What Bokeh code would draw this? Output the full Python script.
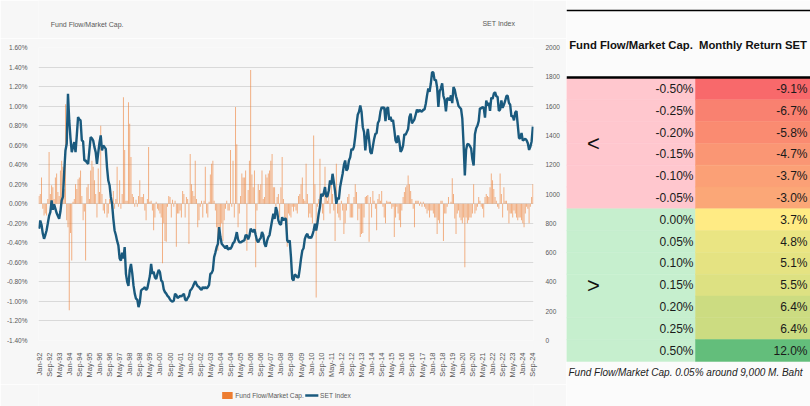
import numpy as np
import pandas as pd
from bokeh.plotting import figure
from bokeh.models import (Range1d, LinearAxis, FixedTicker, CustomJSTickFormatter,
                          ColumnDataSource)
from bokeh.layouts import row, column
from bokeh.embed import file_html
from bokeh.resources import INLINE
from bokeh.core.properties import value

# ---------------- data ----------------
set_1992 = [763, 819, 790, 730, 694, 720, 751, 800, 850, 876, 956, 893]
set_1993 = [930, 900, 870, 850, 831, 880, 956, 980, 1150, 1297, 1343, 1684]
set_1994 = [1502, 1380, 1286, 1320, 1354, 1286, 1400, 1525, 1510, 1502, 1365, 1360]
set_1995 = [1229, 1229, 1215, 1206, 1300, 1388, 1380, 1365, 1320, 1286, 1206, 1280]
set_1996 = [1350, 1400, 1297, 1330, 1320, 1308, 1180, 1092, 1060, 980, 933, 831]
set_1997 = [751, 720, 680, 649, 560, 546, 600, 560, 637, 455, 400, 372]
set_1998 = [480, 523, 460, 376, 320, 285, 280, 228, 260, 341, 350, 355]
set_1999 = [364, 345, 357, 400, 440, 523, 455, 470, 430, 420, 455, 482]
set_2000 = [467, 410, 400, 350, 330, 320, 305, 296, 280, 270, 265, 273]
set_2001 = [319, 310, 290, 296, 305, 300, 310, 319, 280, 273, 290, 303]
set_2002 = [341, 350, 365, 385, 405, 385, 370, 365, 353, 345, 365, 356]
set_2003 = [364, 355, 364, 380, 455, 460, 480, 569, 600, 637, 660, 774]
set_2004 = [706, 660, 650, 640, 630, 649, 620, 630, 626, 640, 665, 671]
set_2005 = [700, 740, 690, 671, 670, 675, 680, 683, 720, 717, 690, 713]
set_2006 = [763, 750, 740, 760, 720, 683, 670, 690, 700, 740, 720, 660]
set_2007 = [640, 680, 706, 720, 770, 819, 865, 830, 910, 880, 820, 797]
set_2008 = [790, 842, 820, 832, 831, 683, 670, 684, 569, 421, 410, 450]
set_2009 = [444, 431, 432, 491, 560, 614, 630, 694, 717, 728, 700, 706]
set_2010 = [700, 720, 751, 797, 750, 800, 865, 911, 1001, 984, 1005, 1047]
set_2011 = [982, 986, 1024, 1093, 1063, 1138, 1081, 1020, 933, 975, 964, 1047]
set_2012 = [1094, 1138, 1197, 1229, 1160, 1172, 1229, 1250, 1308, 1299, 1324, 1392]
set_2013 = [1474, 1541, 1561, 1604, 1562, 1456, 1423, 1297, 1383, 1445, 1371, 1286]
set_2014 = [1274, 1325, 1376, 1411, 1415, 1485, 1502, 1561, 1593, 1584, 1593, 1498]
set_2015 = [1581, 1593, 1506, 1526, 1496, 1505, 1440, 1365, 1349, 1400, 1359, 1288]
set_2016 = [1301, 1332, 1408, 1404, 1424, 1444, 1524, 1548, 1483, 1496, 1510, 1543]
set_2017 = [1577, 1559, 1575, 1566, 1562, 1575, 1576, 1616, 1673, 1721, 1697, 1754]
set_2018 = [1832, 1830, 1776, 1780, 1727, 1595, 1701, 1721, 1756, 1669, 1642, 1564]
set_2019 = [1653, 1653, 1639, 1673, 1620, 1730, 1712, 1667, 1637, 1601, 1590, 1580]
set_2020 = [1514, 1341, 1126, 1302, 1342, 1339, 1328, 1311, 1237, 1195, 1408, 1449]
set_2021 = [1466, 1497, 1587, 1583, 1593, 1588, 1521, 1638, 1605, 1623, 1568, 1658]
set_2022 = [1648, 1685, 1695, 1667, 1663, 1568, 1576, 1639, 1589, 1609, 1635, 1669]
set_2023 = [1671, 1622, 1609, 1529, 1533, 1503, 1556, 1566, 1472, 1381, 1381, 1416]
set_2024 = [1365, 1370, 1377, 1367, 1346, 1301, 1322, 1359, 1460]

flow_1992 = [0.08, 0.10, 0.27, -0.05, -0.12, -0.10, -0.12, 0.05, 0.53, 0.10, 0.19, 0.17]
flow_1993 = [0.05, 0.27, 0.31, 0.12, 0.08, 0.34, 0.44, 0.38, 0.15, 1.02, -0.17, -0.24]
flow_1994 = [-1.09, -0.30, -0.58, 0.02, 0.05, 0.20, 0.15, 0.25, 0.27, 0.34, 0.08, -0.17]
flow_1995 = [-0.08, -0.58, 0.17, 0.20, 0.05, 0.34, 0.44, 0.38, 0.24, 0.10, -0.14, 0.36]
flow_1996 = [0.12, 0.80, 0.10, -0.07, -0.10, 0.05, -0.14, -0.10, 0.05, 0.03, -0.05, 0.13]
flow_1997 = [-0.05, 0.05, 0.38, -0.03, 0.24, -0.05, 0.10, 1.09, 0.55, 0.03, 0.03, 1.04]
flow_1998 = [0.82, 0.48, 0.10, 0.07, -0.03, 0.04, -0.03, 0.08, 0.24, 0.07, 0.07, 0.10]
flow_1999 = [-0.07, -0.17, 0.05, 0.58, 0.02, 0.03, -0.07, -0.27, -0.14, 0.02, -0.05, -0.07]
flow_2000 = [-0.10, -0.14, -0.61, -0.20, -0.38, -0.39, -0.03, 0.08, 0.07, -0.14, 0.04, -0.03]
flow_2001 = [0.03, -0.44, -0.10, -0.10, -0.07, -0.14, 0.13, 0.10, -0.14, 0.07, 0.05, -0.41]
flow_2002 = [0.51, 0.20, 0.13, 0.08, 0.44, 0.05, -0.24, -0.17, -0.03, 0.03, -0.14, 0.03]
flow_2003 = [0.38, -0.10, -0.14, 0.02, 0.30, 0.41, 0.44, 0.03, -0.07, -0.24, -0.48, -0.31]
flow_2004 = [-0.24, -0.20, -0.38, -0.17, -0.05, 0.03, -0.07, -0.07, 0.55, -0.03, 0.44, -0.14]
flow_2005 = [0.99, 0.61, -0.24, -0.10, 0.08, 0.31, 0.27, 0.27, 0.34, -0.48, 0.14, 0.44]
flow_2006 = [1.37, 0.30, 0.17, 0.34, -0.65, -0.07, 0.20, 0.14, 0.20, 0.34, 0.05, 0.07]
flow_2007 = [0.30, 0.27, 0.31, 0.34, 0.44, 0.51, 0.17, 0.17, -0.03, 0.07, 0.10, -0.14]
flow_2008 = [0.17, 0.48, 0.05, -0.14, -0.20, -0.44, -0.10, -0.12, -0.14, -0.03, -0.08, -0.03]
flow_2009 = [-0.07, -0.10, 0.08, 0.10, 0.20, 0.27, 0.05, 0.03, 0.41, 0.10, -0.14, -0.10]
flow_2010 = [-0.14, -0.20, 0.70, 0.20, -0.96, -0.03, 0.05, 0.46, 0.08, -0.10, -0.17, 0.38]
flow_2011 = [0.12, 0.03, 0.20, -0.10, 0.24, 0.10, -0.07, -0.38, 0.41, -0.10, -0.14, -0.17]
flow_2012 = [0.03, -0.07, -0.31, -0.20, -0.07, 0.07, 0.10, -0.14, -0.14, -0.14, 0.07, 0.20]
flow_2013 = [0.12, -0.17, -0.05, -0.34, -0.31, -0.30, -0.14, 0.07, 0.08, 0.09, -0.39, 0.07]
flow_2014 = [-0.14, 0.13, 0.03, -0.05, -0.27, 0.05, 0.10, 0.03, 0.13, -0.03, -0.14, -0.20]
flow_2015 = [0.03, 0.02, 0.02, 0.02, -0.05, -0.03, -0.34, -0.14, -0.03, -0.10, -0.17, -0.24]
flow_2016 = [-0.07, 0.07, 0.12, 0.17, 0.19, 0.29, 0.20, 0.13, 0.05, -0.05, -0.24, 0.03]
flow_2017 = [0.03, 0.03, -0.02, 0.02, -0.03, 0.02, -0.03, -0.05, -0.10, -0.07, -0.14, -0.07]
flow_2018 = [-0.07, -0.10, -0.14, -0.14, -0.31, -0.17, -0.20, 0.03, 0.03, -0.38, -0.10, -0.10]
flow_2019 = [-0.03, 0.07, 0.00, 0.02, 0.26, 0.10, -0.15, -0.31, -0.10, -0.07, -0.14, -0.17]
flow_2020 = [-0.20, -0.14, -0.65, -0.14, -0.20, -0.17, -0.14, -0.14, -0.10, 0.20, -0.10, -0.07]
flow_2021 = [-0.03, 0.07, 0.03, -0.03, -0.05, -0.14, 0.07, 0.10, 0.08, 0.07, 0.17, 0.31]
flow_2022 = [0.24, 0.15, 0.07, 0.03, -0.03, -0.05, 0.31, 0.10, -0.14, 0.17, 0.03, 0.03]
flow_2023 = [-0.07, -0.20, -0.10, -0.10, -0.14, -0.07, -0.10, -0.14, -0.17, -0.14, -0.14, -0.17]
flow_2024 = [-0.20, -0.24, -0.10, -0.03, -0.05, -0.20, -0.03, 0.07, 0.20]

years = range(1992, 2025)
set_index = sum((globals()[f"set_{y}"] for y in years), [])
fund_flow = sum((globals()[f"flow_{y}"] for y in years), [])
month_idx = list(range(len(set_index)))
months = pd.date_range("1992-01-01", periods=len(set_index), freq="MS")

x_tick_pos = month_idx[::8]
x_tick_labels = [months[i].strftime("%b-%y") for i in x_tick_pos]
left_ticks = [-1.4, -1.2, -1.0, -0.8, -0.6, -0.4, -0.2, 0.0, 0.2, 0.4, 0.6, 0.8, 1.0, 1.2, 1.4, 1.6]
right_ticks = [0, 200, 400, 600, 800, 1000, 1200, 1400, 1600, 1800, 2000]

series_names = ["Fund Flow/Market Cap.", "SET Index"]

# table
ff_thresholds = [-0.50, -0.25, -0.20, -0.15, -0.10, -0.05, 0.00, 0.05, 0.10, 0.15, 0.20, 0.25, 0.50]
monthly_return = [-9.1, -6.7, -5.8, -4.7, -3.7, -3.0, 3.7, 4.8, 5.1, 5.5, 6.4, 6.4, 12.0]
table_headers = ["Fund Flow/Market Cap.", "Monthly Return SET"]
footnote = "Fund Flow/Market Cap. 0.05% around 9,000 M. Baht"

FONT = "Liberation Sans"
GRAY = "#595959"
BG = "#F7F7F7"
ORANGE = "#ED7D31"
BLUE = "#1A5A7E"
LW = 566

def strip(height, y_top):
    f = figure(width=LW, height=height, x_range=Range1d(0, LW),
               y_range=Range1d(y_top + height, y_top),
               output_backend="svg", toolbar_location=None, min_border=0,
               x_axis_location=None, y_axis_location=None)
    f.grid.visible = False
    f.outline_line_color = None
    f.background_fill_color = BG
    f.border_fill_color = BG
    return f

# ---------------- header strip (chart titles) ----------------
head = strip(38, 0)
head.text(x=[14], y=[24], text=[series_names[0]], text_align="left", text_baseline="middle",
          text_font=value(FONT), text_font_size="7px", text_color=GRAY)
head.text(x=[545], y=[23], text=[series_names[1]], text_align="right", text_baseline="middle",
          text_font=value(FONT), text_font_size="7px", text_color=GRAY)

# ---------------- main chart ----------------
p = figure(width=LW, height=346, x_range=Range1d(-0.4, 392.5), y_range=Range1d(-1.4, 1.6),
           output_backend="svg", toolbar_location=None,
           min_border_left=38, min_border_right=33, min_border_top=9, min_border_bottom=44)
p.extra_y_ranges = {"set": Range1d(0, 2000)}
p.outline_line_color = None
p.background_fill_color = BG
p.border_fill_color = BG

p.xgrid.visible = False
p.ygrid.ticker = FixedTicker(ticks=left_ticks)
p.ygrid.grid_line_color = "#D9D9D9"
p.ygrid.grid_line_width = 1

for ax in [p.xaxis[0], p.yaxis[0]]:
    ax.axis_line_color = None
    ax.major_tick_line_color = None
    ax.minor_tick_line_color = None
    ax.major_label_text_font = FONT
    ax.major_label_text_color = GRAY

p.yaxis.ticker = FixedTicker(ticks=left_ticks)
p.yaxis.formatter = CustomJSTickFormatter(code="return tick.toFixed(2) + '%';")
p.yaxis.major_label_text_font_size = "6.5px"
p.yaxis.major_label_standoff = 5

p.xaxis.ticker = FixedTicker(ticks=x_tick_pos)
p.xaxis.major_label_overrides = {i: lab for i, lab in zip(x_tick_pos, x_tick_labels)}
p.xaxis.major_label_orientation = np.pi / 2
p.xaxis.major_label_text_font_size = "7.5px"
p.xaxis.major_label_standoff = 6

ry = LinearAxis(y_range_name="set", ticker=FixedTicker(ticks=right_ticks))
ry.axis_line_color = None
ry.major_tick_line_color = None
ry.minor_tick_line_color = None
ry.major_label_text_font = FONT
ry.major_label_text_color = GRAY
ry.major_label_text_font_size = "6.5px"
ry.major_label_standoff = 6
p.add_layout(ry, "right")

p.vbar(x=month_idx, top=fund_flow, bottom=0, width=0.75,
       fill_color=ORANGE, fill_alpha=0.62, line_color=None)
p.line(month_idx, set_index, y_range_name="set", line_color=BLUE, line_width=2.4)

# ---------------- legend strip ----------------
foot = strip(22, 384)
foot.rect(x=[216], y=[395], width=12, height=7, fill_color=ORANGE, line_color=None)
foot.segment(x0=[305], y0=[395], x1=[320], y1=[395], line_color=BLUE, line_width=2.5)
foot.text(x=[225, 322], y=[395, 395], text=series_names, text_align="left",
          text_baseline="middle", text_font=value(FONT), text_font_size="6.6px",
          text_color=GRAY)

left = column(head, p, foot)

# ---------------- right table ----------------
t = figure(width=810 - LW, height=406, x_range=Range1d(LW, 810), y_range=Range1d(406, 0),
           output_backend="svg", toolbar_location=None, min_border=0,
           x_axis_location=None, y_axis_location=None)
t.grid.visible = False
t.outline_line_color = None
t.background_fill_color = "#FBFBFB"
t.border_fill_color = "#FBFBFB"

def excel_scale(v, lo, mid, hi):
    red, yel, grn = np.array([248, 105, 107]), np.array([255, 235, 132]), np.array([99, 190, 123])
    if v <= mid:
        c = red + (v - lo) / (mid - lo) * (yel - red)
    else:
        c = yel + (v - mid) / (hi - mid) * (grn - yel)
    return "#%02x%02x%02x" % tuple(int(round(x)) for x in c)

lo, mid, hi = min(monthly_return), float(np.median(monthly_return)), max(monthly_return)
ret_colors = [excel_scale(v, lo, mid, hi) for v in monthly_return]
side_colors = ["#FFC7CE" if v < 0 else "#C6EFCE" for v in ff_thresholds]

row_h = 21.8
top0 = 77.5
ys = [top0 + (i + 0.5) * row_h for i in range(len(ff_thresholds))]
src = ColumnDataSource(dict(
    y=ys, side=side_colors, ret=ret_colors,
    ff_lab=[f"{v:.2f}%" for v in ff_thresholds],
    ret_lab=[f"{v:.1f}%" for v in monthly_return]))

t.rect(x=630.5, y="y", width=129, height=row_h, fill_color="side", line_color="side",
       line_width=0.5, source=src)
t.rect(x=752.5, y="y", width=115, height=row_h, fill_color="ret", line_color="ret",
       line_width=0.5, source=src)
t.text(x=693, y="y", text="ff_lab", source=src, text_align="right", text_baseline="middle",
       text_font=value(FONT), text_font_size="12px", text_color="#1A1A1A")
t.text(x=807, y="y", text="ret_lab", source=src, text_align="right", text_baseline="middle",
       text_font=value(FONT), text_font_size="12px", text_color="#1A1A1A")

neg_n = sum(1 for v in ff_thresholds if v < 0)
pos_n = len(ff_thresholds) - neg_n
t.text(x=[593, 593], y=[top0 + neg_n * row_h / 2, top0 + (neg_n + pos_n / 2) * row_h],
       text=["<", ">"], text_align="center", text_baseline="middle",
       text_font=value(FONT), text_font_size="22px", text_color="#111111")

t.segment(x0=[566], y0=[10], x1=[810], y1=[10], line_color="black", line_width=1.5)
t.segment(x0=[566], y0=[77], x1=[810], y1=[77], line_color="black", line_width=2.4)
t.text(x=[630.5, 752.5], y=[44, 44], text=table_headers,
       text_align="center", text_baseline="middle", text_font=value(FONT),
       text_font_style="bold", text_font_size="11.3px", text_color="#111111")
t.text(x=[568], y=[372], text=[footnote], text_align="left", text_baseline="middle",
       text_font=value(FONT), text_font_style="italic", text_font_size="10px",
       text_color="#222222")

layout = row(left, t)
open("out.html", "w").write(file_html(layout, INLINE))
